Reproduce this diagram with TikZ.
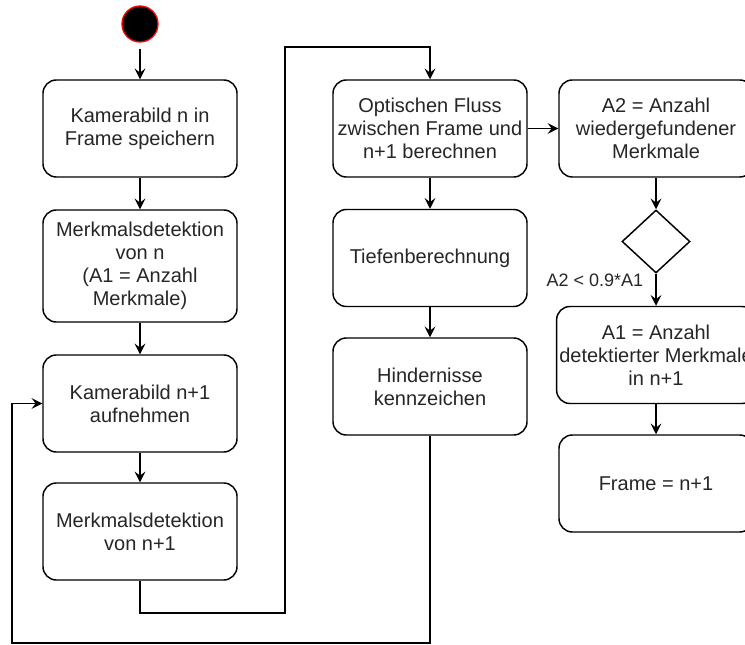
\documentclass[tikz,border=0pt]{standalone}
\usepackage{fontspec}
\setmainfont{Liberation Sans}
\usepackage{tikz}
\usetikzlibrary{arrows.meta,positioning,shapes.geometric}

\begin{document}
\begin{tikzpicture}[
    x=0.75pt, y=-0.75pt,
    line width=1.1pt,
    act/.style={
      draw=black,
      fill=white,
      minimum width=145.5pt,
      minimum height=72.75pt,
      rounded corners=10pt,
      inner sep=2pt,
      font=\fontsize{15pt}{17.25pt}\selectfont,
      text=black!85,
      align=center
    },
    startdot/.style={
      circle,
      draw=red,
      fill=black,
      line width=1pt,
      minimum size=27pt,
      inner sep=0pt
    },
    choice/.style={
      diamond,
      draw=black,
      fill=white,
      minimum width=51pt,
      minimum height=47.25pt,
      inner sep=0pt
    },
    arr/.style={
      -{Stealth[length=8pt,width=8pt,inset=3pt]},
      color=black
    },
    cond/.style={
      font=\fontsize{13.5pt}{16pt}\selectfont,
      text=black!85,
      inner sep=0pt
    }
  ]
  \clip (0,0) rectangle (745,645);

  % Start
  \node[startdot] (start) at (140,24) {};

  % Left column
  \node[act] (kam) at (140,128.5) {Kamerabild n in\\Frame speichern};
  \node[act, minimum height=84pt] (merk) at (140,266) {Merkmalsdetektion\\von n\\(A1 = Anzahl\\Merkmale)};
  \node[act] (kamnext) at (140,403.5) {Kamerabild n+1\\aufnehmen};
  \node[act] (merknext) at (140,531.5) {Merkmalsdetektion\\von n+1};

  % Middle column
  \node[act] (fluss) at (430,128.5) {Optischen Fluss\\zwischen Frame und\\n+1 berechnen};
  \node[act] (tiefe) at (430,258) {Tiefenberechnung};
  \node[act] (hind) at (430,386.5) {Hindernisse\\kennzeichen};

  % Right column
  \node[act] (anzahl) at (656,128.5) {A2 = Anzahl\\wiedergefundener\\Merkmale};
  \node[choice] (dec) at (656,241.5) {};
  \node[act] (detekt) at (656,355) {A1 = Anzahl\\detektierter Merkmale\\in n+1};
  \node[act] (frame) at (656,483.5) {Frame = n+1};

  % Condition
  \node[cond, anchor=east] (condlbl) at (644,280) {A2 < 0.9*A1};

  % Loop corners
  \coordinate (upA) at (285,613);
  \coordinate (upB) at (285,47);
  \coordinate (backA) at (12,643);

  % Flow
  \draw[arr, shorten <=4.5pt] (start) -- (kam);
  \draw[arr] (kam) -- (merk);
  \draw[arr] (merk) -- (kamnext);
  \draw[arr] (kamnext) -- (merknext);
  \draw[arr] (merknext.south) |- (upA) -- (upB) -| (fluss.north);
  \draw[arr] (fluss) -- (tiefe);
  \draw[arr] (tiefe) -- (hind);
  \draw[arr] (hind.south) |- (backA) |- (kamnext.west);

  \draw[arr] (fluss) -- (anzahl);
  \draw[arr] (anzahl) -- (dec);
  \draw[arr] (dec) -- (detekt);
  \draw[arr] (detekt) -- (frame);

\end{tikzpicture}
\end{document}
